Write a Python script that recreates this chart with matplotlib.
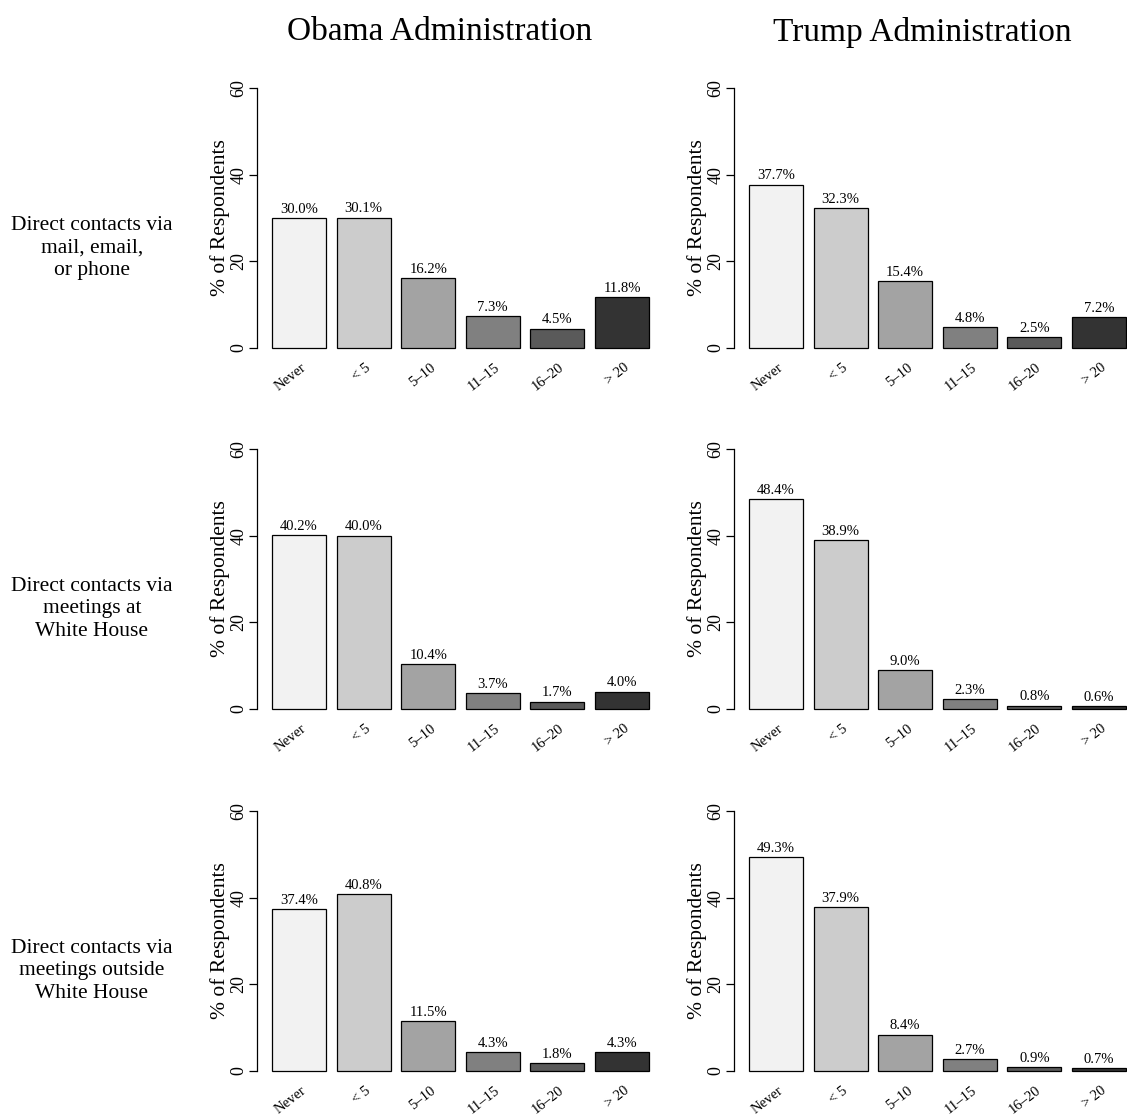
import matplotlib
matplotlib.use("Agg")
import matplotlib.pyplot as plt

plt.rcParams['font.family'] = ['Liberation Serif', 'DejaVu Serif']

# data
categories = ["Never", "< 5", "5\u201310", "11\u201315", "16\u201320", "> 20"]
row_labels = ["Direct contacts via\nmail, email,\nor phone",
              "Direct contacts via\nmeetings at\nWhite House",
              "Direct contacts via\nmeetings outside\nWhite House"]
col_titles = ["Obama Administration", "Trump Administration"]

obama_mail = [30.0, 30.1, 16.2, 7.3, 4.5, 11.8]
obama_wh = [40.2, 40.0, 10.4, 3.7, 1.7, 4.0]
obama_out = [37.4, 40.8, 11.5, 4.3, 1.8, 4.3]
trump_mail = [37.7, 32.3, 15.4, 4.8, 2.5, 7.2]
trump_wh = [48.4, 38.9, 9.0, 2.3, 0.8, 0.6]
trump_out = [49.3, 37.9, 8.4, 2.7, 0.9, 0.7]

bar_colors = ["#F2F2F2", "#CCCCCC", "#A3A3A3", "#808080", "#5A5A5A", "#333333"]

W, H = 1127, 1118
fig = plt.figure(figsize=(W / 100, H / 100), dpi=100)

col_left = [257, 734]       # px, left edge of plot region
col_width = 407
row_y0 = [348, 709, 1071]   # px of value 0
px_per_unit = 260 / 60.0


def panel(ax, values):
    x = [0.7 + 1.2 * i for i in range(len(values))]
    ax.bar(x, values, width=1.0, color=bar_colors, edgecolor="black", linewidth=0.9)
    ax.set_xlim(-0.08, 7.48)
    ax.set_ylim(-2.4, 62.4)
    for side in ["top", "right", "bottom"]:
        ax.spines[side].set_visible(False)
    ax.spines["left"].set_bounds(0, 60)
    ax.spines["left"].set_linewidth(0.9)
    ax.set_xticks([])
    ax.set_yticks([0, 20, 40, 60])
    ax.set_yticklabels(["0", "20", "40", "60"], rotation=90, va="center", fontsize=13)
    ax.tick_params(axis="y", length=6, width=0.9, pad=1)
    ax.set_ylabel("% of Respondents", fontsize=15.5, labelpad=0)
    for xi, v in zip(x, values):
        ax.text(xi, v + 1.2, "%.1f%%" % v, ha="center", va="baseline", fontsize=10.5)
    for xi, lab in zip(x, categories):
        ax.text(xi + 0.1, -4.2, lab, ha="right", va="center", rotation=38,
                rotation_mode="anchor", fontsize=10.5, clip_on=False)


data = [[obama_mail, trump_mail], [obama_wh, trump_wh], [obama_out, trump_out]]

for r in range(3):
    y0 = row_y0[r]
    bottom_px = y0 + 2.4 * px_per_unit
    top_px = y0 - 62.4 * px_per_unit
    for c in range(2):
        ax = fig.add_axes([col_left[c] / W, 1 - bottom_px / H,
                           col_width / W, (bottom_px - top_px) / H])
        panel(ax, data[r][c])
    fig.text(92 / W, 1 - (y0 - 100) / H, row_labels[r], ha="center", va="center",
             fontsize=15.5, linespacing=1.25)

fig.text(440 / W, 1 - 32 / H, col_titles[0], ha="center", va="center", fontsize=24)
fig.text(922 / W, 1 - 32 / H, col_titles[1], ha="center", va="center", fontsize=24)

fig.savefig("out.png", dpi=100)
